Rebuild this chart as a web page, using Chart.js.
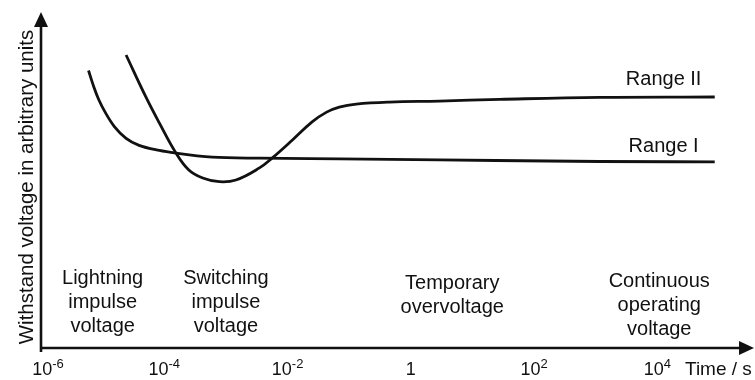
<!DOCTYPE html>
<html>
<head>
<meta charset="utf-8">
<script src="https://cdn.jsdelivr.net/npm/chart.js@4"></script>
<style>
  html, body { margin: 0; padding: 0; background: #fff; }
  #wrap { width: 755px; height: 380px; position: relative; }
</style>
</head>
<body>
<div id="wrap"><canvas id="chart"></canvas></div>
<script>
// time axis ticks (seconds) and their labels, written as base + superscript
const timeTicks = [1e-6, 1e-4, 1e-2, 1, 1e2, 1e4];
const tickBase = ['10', '10', '10', '1', '10', '10'];
const tickExp = ['-6', '-4', '-2', '', '2', '4'];

// Range I - lightning impulse side, flattens out early
const rangeITime = [5.9e-6, 7.2e-6, 8.7e-6, 1.12e-5, 1.55e-5, 2.4e-5, 3.9e-5, 8.3e-5, 1.55e-4, 6.0e-4,
  3.5e-3, 0.069, 2.9, 1150, 85000];
const rangeIValue = [8.26, 7.77, 7.38, 6.99, 6.59, 6.24, 6.03, 5.88, 5.80, 5.68,
  5.65, 5.63, 5.60, 5.55, 5.54];

// Range II - switching impulse dip, then rises to the higher plateau
const rangeIITime = [2.4e-5, 5.0e-5, 8.3e-5, 1.55e-4, 2.5e-4, 4.2e-4, 7.8e-4, 1.45e-3, 3.5e-3, 5.6e-3,
  0.012, 0.025, 0.043, 0.069, 0.13, 0.45, 2.9, 27.5, 1150, 85000];
const rangeIIValue = [8.72, 7.48, 6.70, 5.80, 5.30, 5.06, 4.95, 5.00, 5.36, 5.65,
  6.19, 6.73, 7.02, 7.17, 7.26, 7.32, 7.35, 7.40, 7.46, 7.47];

const seriesNames = ['Range I', 'Range II'];
const regionNames = [
  ['Lightning', 'impulse', 'voltage'],
  ['Switching', 'impulse', 'voltage'],
  ['Temporary', 'overvoltage'],
  ['Continuous', 'operating', 'voltage']
];

const ink = '#111';
const font = '"Liberation Sans", Arial, sans-serif';

// where the texts sit, in axis units (time, arbitrary voltage)
const regionAnchors = [[1e-5, 1.90], [1e-3, 1.90], [4.7, 1.76], [1.07e4, 1.82]];
const seriesAnchors = [[1.26e4, 5.83], [1.26e4, 7.83]];

const axesPlugin = {
  id: 'axesPlugin',
  afterDraw(chart) {
    const ctx = chart.ctx;
    const xs = chart.scales.x, ys = chart.scales.y;
    const area = chart.chartArea;
    const x0 = area.left, y0 = area.bottom;
    ctx.save();
    ctx.strokeStyle = ink;
    ctx.fillStyle = ink;
    ctx.lineWidth = 2.6;

    // axes
    ctx.beginPath();
    ctx.moveTo(x0, y0 + 4);
    ctx.lineTo(x0, area.top + 12);
    ctx.moveTo(x0 - 1, y0);
    ctx.lineTo(area.right - 12, y0);
    ctx.stroke();
    // arrow heads
    ctx.beginPath();
    ctx.moveTo(x0, area.top);
    ctx.lineTo(x0 - 7, area.top + 15);
    ctx.lineTo(x0 + 7, area.top + 15);
    ctx.closePath();
    ctx.fill();
    ctx.beginPath();
    ctx.moveTo(area.right + 1, y0);
    ctx.lineTo(area.right - 14, y0 - 7);
    ctx.lineTo(area.right - 14, y0 + 7);
    ctx.closePath();
    ctx.fill();

    // tick labels with superscript exponents
    ctx.textBaseline = 'alphabetic';
    timeTicks.forEach((t, i) => {
      ctx.font = '18px ' + font;
      const wb = ctx.measureText(tickBase[i]).width;
      ctx.font = '13px ' + font;
      const we = ctx.measureText(tickExp[i]).width;
      let left = xs.getPixelForValue(t) - (wb + we) / 2;
      if (i === 0) left += 7;
      ctx.font = '18px ' + font;
      ctx.textAlign = 'left';
      ctx.fillText(tickBase[i], left, 375);
      ctx.font = '13px ' + font;
      ctx.fillText(tickExp[i], left + wb, 368);
    });
    ctx.font = '19px ' + font;
    ctx.textAlign = 'left';
    ctx.fillText('Time / s', 685, 375);

    // y axis title
    ctx.save();
    ctx.translate(33, 187);
    ctx.rotate(-Math.PI / 2);
    ctx.textAlign = 'center';
    ctx.font = '20.5px ' + font;
    ctx.fillText('Withstand voltage in arbitrary units', 0, 0);
    ctx.restore();

    // region texts
    ctx.font = '20px ' + font;
    ctx.textAlign = 'center';
    regionNames.forEach((lines, i) => {
      const px = xs.getPixelForValue(regionAnchors[i][0]);
      const py = ys.getPixelForValue(regionAnchors[i][1]);
      lines.forEach((s, k) => ctx.fillText(s, px, py + k * 24));
    });
    // series names
    seriesNames.forEach((s, i) => {
      ctx.fillText(s, xs.getPixelForValue(seriesAnchors[i][0]), ys.getPixelForValue(seriesAnchors[i][1]));
    });
    ctx.restore();
  }
};

const toPoints = (xsArr, ysArr) => xsArr.map((x, i) => ({ x: x, y: ysArr[i] }));

new Chart(document.getElementById('chart').getContext('2d'), {
  type: 'line',
  data: {
    datasets: [
      // range I only ever falls, so a monotone curve keeps it smooth
      { label: seriesNames[0], data: toPoints(rangeITime, rangeIValue), cubicInterpolationMode: 'monotone' },
      { label: seriesNames[1], data: toPoints(rangeIITime, rangeIIValue) }
    ]
  },
  options: {
    responsive: true,
    maintainAspectRatio: false,
    animation: false,
    layout: { padding: { left: 41, right: 2, top: 12, bottom: 32 } },
    elements: {
      line: { borderColor: ink, borderWidth: 2.8, tension: 0.4, fill: false },
      point: { radius: 0, hoverRadius: 0 }
    },
    scales: {
      x: { type: 'logarithmic', min: 1e-6, max: 3.55e5, display: false },
      y: { type: 'linear', min: 0, max: 10, display: false }
    },
    plugins: {
      legend: { display: false },
      tooltip: { enabled: false }
    }
  },
  plugins: [axesPlugin]
});
</script>
</body>
</html>
